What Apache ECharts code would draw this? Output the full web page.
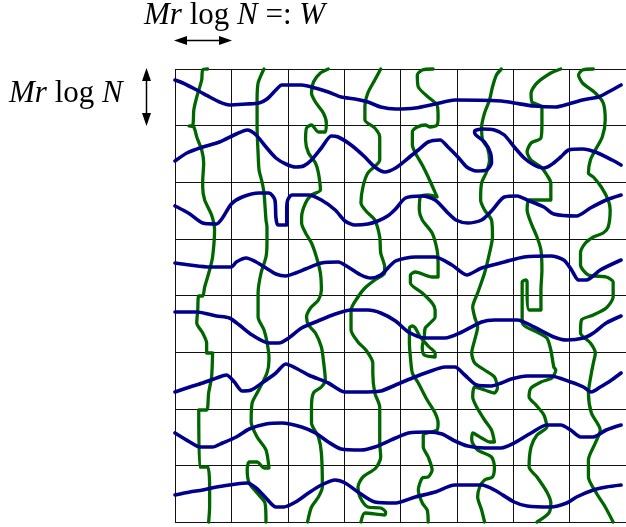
<!DOCTYPE html>
<html>
<head>
<meta charset="utf-8">
<script src="https://cdn.jsdelivr.net/npm/echarts@6/dist/echarts.min.js"></script>
<style>html,body{margin:0;padding:0;background:#fff}#c{width:626px;height:527px}</style>
</head>
<body>
<div id="c"></div>
<script>
// Grid: 8 x 8 cells, each cell = one "Mr log N" block (57 x 56.625 units)
const cellW = 57, cellH = 56.625, nCells = 8;

// Horizontal (blue) curves, [x, y] with y measured downward from the top edge
const blue1 = [[0,11],[8,14],[22,21],[35,28],[45,33],[55,36],[72,35],[85,34],[93,30],[102,21],[108,16],[128,16],[138,18],[155,23],[168,28],[182,30],[195,33],[208,38],[223,40],[243,39],[263,35],[283,31],[330,32],[343,34],[363,37],[385,38],[398,35],[412,31],[428,28],[438,23],[451,16]];
const blue2 = [[0,92],[12,84],[28,78],[45,73],[62,65],[73,61],[82,66],[92,78],[102,89],[112,95],[122,98],[130,97],[138,91],[148,79],[158,67],[165,68],[178,76],[192,88],[202,98],[212,103],[223,99],[236,89],[246,81],[256,73],[268,71],[276,78],[286,88],[295,98],[305,102],[315,101],[320,94],[319,84],[313,73],[303,64],[303,62],[310,60],[323,61],[333,66],[343,78],[353,89],[363,96],[373,99],[380,96],[390,88],[398,81],[412,80],[425,83],[442,91],[451,96]];
const blue3 = [[0,137],[8,141],[15,145],[28,154],[42,155],[48,149],[57,135],[68,128],[85,124],[95,124],[101,131],[102,148],[104,156],[113,156],[113,140],[114,131],[118,126],[135,126],[148,131],[162,141],[172,152],[182,156],[195,155],[205,152],[215,147],[223,140],[233,129],[250,127],[263,131],[276,144],[284,151],[296,154],[310,151],[320,142],[333,128],[346,127],[356,131],[373,138],[383,145],[406,147],[420,139],[436,131],[451,126]];
const blue4 = [[0,194],[15,196],[35,198],[57,198],[62,193],[72,189],[82,193],[92,199],[102,205],[112,207],[122,204],[132,200],[148,194],[165,193],[175,198],[188,206],[198,209],[208,206],[223,192],[243,188],[263,188],[280,196],[295,206],[310,199],[333,193],[353,188],[380,187],[393,191],[401,201],[408,211],[416,211],[430,201],[451,191]];
const blue5 = [[0,243],[22,243],[42,247],[55,249],[65,256],[78,266],[95,274],[105,274],[115,269],[128,259],[142,253],[162,245],[178,241],[195,241],[208,244],[223,252],[236,263],[253,269],[273,269],[290,263],[310,253],[323,251],[346,251],[363,258],[383,268],[396,271],[413,269],[423,264],[436,254],[451,247]];
const blue6 = [[0,323],[15,318],[28,314],[42,309],[52,306],[60,313],[68,322],[77,321],[88,314],[102,304],[112,295],[122,299],[135,306],[155,314],[172,323],[188,323],[208,322],[223,316],[240,309],[256,303],[273,298],[283,298],[293,306],[305,316],[320,317],[330,314],[340,310],[356,307],[380,307],[400,313],[413,318],[421,323],[430,318],[440,312],[451,304]];
const blue7 = [[0,364],[15,373],[25,378],[38,378],[48,374],[62,368],[75,360],[92,355],[108,354],[128,358],[142,364],[155,373],[168,380],[188,381],[202,378],[223,369],[236,364],[256,363],[270,365],[283,372],[296,377],[313,379],[330,379],[343,374],[360,364],[376,356],[390,356],[400,361],[410,368],[423,368],[436,361],[451,356]];
const blue8 = [[0,426],[15,423],[28,421],[42,418],[62,415],[73,414],[82,419],[92,429],[102,438],[110,438],[122,433],[135,424],[148,416],[162,411],[172,414],[185,423],[202,433],[223,434],[243,428],[263,423],[283,416],[310,416],[323,421],[343,433],[356,437],[380,438],[396,434],[406,428],[423,421],[436,418],[451,416]];

// Vertical (green) curves
const green1 = [[33,0],[28,1],[27,11],[22,28],[19,41],[18,56],[14,57],[19,58],[22,68],[27,81],[29,94],[28,113],[28,118],[30,131],[37,146],[40,161],[38,188],[35,201],[30,218],[28,227],[24,227],[23,241],[22,254],[28,264],[32,274],[32,284],[38,284],[37,308],[34,324],[32,341],[24,341],[25,398],[33,398],[35,418],[35,438],[34,453]];
const green2 = [[90,0],[88,4],[84,14],[83,31],[83,58],[84,84],[85,101],[88,113],[90,124],[92,151],[93,158],[93,174],[92,188],[87,204],[84,224],[84,248],[90,261],[93,273],[95,288],[95,291],[93,304],[83,324],[78,334],[77,353],[83,368],[92,381],[95,399],[90,399],[83,393],[75,393],[73,401],[75,414],[83,424],[91,434],[92,453]];
const green3 = [[155,0],[147,4],[140,13],[138,24],[142,33],[150,44],[153,54],[152,63],[145,63],[138,56],[133,59],[132,71],[135,84],[142,94],[145,104],[147,121],[138,126],[132,134],[128,148],[128,154],[132,164],[138,174],[143,188],[147,204],[148,221],[145,231],[137,239],[133,248],[135,256],[142,264],[148,278],[150,291],[152,311],[148,318],[140,324],[138,338],[138,354],[145,368],[148,384],[149,418],[145,428],[138,438],[134,453]];
const green4 = [[208,0],[202,11],[195,24],[192,38],[192,51],[202,59],[207,68],[207,91],[195,104],[190,118],[188,134],[194,143],[202,151],[207,168],[208,184],[212,198],[212,204],[202,211],[192,219],[185,228],[178,241],[178,261],[185,273],[193,281],[200,294],[200,304],[202,324],[207,338],[207,374],[208,388],[203,399],[190,408],[185,418],[187,428],[195,438],[208,439],[213,443],[212,446],[192,444],[188,453]];
const green5 = [[261,0],[250,1],[245,6],[246,18],[256,28],[265,36],[266,48],[265,56],[258,58],[253,56],[245,58],[240,63],[240,76],[243,84],[250,96],[256,108],[261,119],[265,128],[256,126],[248,128],[247,141],[250,151],[260,164],[265,181],[266,194],[266,208],[260,208],[243,203],[238,206],[238,214],[250,224],[260,234],[263,241],[263,248],[258,254],[253,259],[252,268],[250,278],[252,286],[263,288],[263,284],[257,278],[248,268],[243,259],[240,257],[237,259],[237,274],[238,288],[240,304],[246,314],[255,331],[263,344],[266,354],[265,361],[251,366],[251,378],[256,388],[260,401],[256,408],[250,409],[246,421],[250,434],[255,441],[256,453]];
const green6 = [[330,0],[325,6],[321,18],[318,31],[313,44],[310,58],[311,71],[316,79],[318,91],[315,103],[310,114],[309,131],[313,141],[320,151],[321,168],[318,184],[313,204],[306,224],[301,238],[303,248],[306,258],[303,271],[300,284],[303,294],[313,301],[323,308],[326,319],[323,324],[313,321],[303,318],[301,328],[305,338],[313,351],[320,361],[323,373],[318,373],[310,369],[301,364],[300,371],[306,381],[320,388],[323,398],[321,408],[313,411],[308,418],[306,428],[310,441],[313,453]];
const green7 = [[390,0],[380,4],[366,14],[360,24],[361,33],[371,38],[371,54],[370,69],[360,74],[356,83],[360,91],[370,98],[376,106],[380,114],[380,131],[370,131],[358,131],[356,141],[360,154],[366,168],[370,181],[371,201],[370,221],[370,241],[358,241],[356,224],[356,213],[355,211],[351,213],[351,234],[351,253],[355,258],[366,263],[376,269],[380,281],[383,298],[385,301],[381,309],[370,313],[360,319],[358,328],[365,336],[373,346],[376,358],[366,366],[360,378],[358,398],[366,408],[376,423],[380,434],[378,444],[366,453]];
const green8 = [[423,0],[412,1],[408,6],[412,14],[425,24],[433,34],[435,51],[432,68],[425,81],[420,91],[418,104],[423,108],[431,118],[438,131],[440,141],[438,158],[433,164],[423,168],[415,174],[410,184],[410,196],[418,206],[436,208],[443,213],[443,228],[436,239],[423,246],[411,251],[410,264],[420,274],[425,284],[423,294],[421,304],[418,324],[421,344],[430,361],[425,374],[418,391],[418,408],[426,424],[435,438],[443,453]];

const blues = [blue1, blue2, blue3, blue4, blue5, blue6, blue7, blue8];
const greens = [green1, green2, green3, green4, green5, green6, green7, green8];

const topLabel = '{i|Mr}{n| log }{i|N}{n| =: }{i|W}';
const sideLabel = '{i|Mr}{n| log }{i|N}';

const chart = echarts.init(document.getElementById('c'), null, {renderer: 'canvas'});

const mkSeries = (data, color, w, z) => ({
  type: 'line', data: data, showSymbol: false, symbol: 'none', smooth: 0.25,
  clip: false, animation: false, z: z,
  lineStyle: {color: color, width: w, cap: 'round', join: 'round'}
});

const series = [];
greens.forEach(g => series.push(mkSeries(g, '#006600', 3.3, 2)));
blues.forEach(b => series.push(mkSeries(b, '#00008c', 3.6, 3)));

const rich = {
  i: {fontFamily: 'Liberation Serif', fontStyle: 'italic', fontSize: 31, color: '#1a1a1a'},
  n: {fontFamily: 'Liberation Serif', fontSize: 31, color: '#1a1a1a'}
};

chart.setOption({
  animation: false,
  backgroundColor: '#fff',
  grid: {left: 175, top: 69, width: cellW * nCells, height: cellH * nCells, containLabel: false},
  xAxis: {
    type: 'value', min: 0, max: cellW * nCells, interval: cellW,
    axisLine: {show: false}, axisTick: {show: false}, axisLabel: {show: false},
    splitLine: {show: true, lineStyle: {color: '#111', width: 1}}
  },
  yAxis: {
    type: 'value', min: 0, max: cellH * nCells, interval: cellH, inverse: true,
    axisLine: {show: false}, axisTick: {show: false}, axisLabel: {show: false},
    splitLine: {show: true, lineStyle: {color: '#111', width: 1}}
  },
  series: series,
  graphic: [
    {type: 'text', left: 144, top: 0, style: {text: topLabel, rich: rich}},
    {type: 'text', left: 9, top: 78, style: {text: sideLabel, rich: rich}},
    // horizontal double arrow
    {type: 'line', shape: {x1: 184, y1: 40.5, x2: 222, y2: 40.5}, style: {stroke: '#000', lineWidth: 1.5}},
    {type: 'polygon', shape: {points: [[174, 40.5], [187, 36], [187, 45]]}, style: {fill: '#000'}},
    {type: 'polygon', shape: {points: [[232, 40.5], [219, 36], [219, 45]]}, style: {fill: '#000'}},
    // vertical double arrow
    {type: 'line', shape: {x1: 146.5, y1: 78, x2: 146.5, y2: 116}, style: {stroke: '#000', lineWidth: 1.5}},
    {type: 'polygon', shape: {points: [[146.5, 68], [142, 81], [151, 81]]}, style: {fill: '#000'}},
    {type: 'polygon', shape: {points: [[146.5, 126], [142, 113], [151, 113]]}, style: {fill: '#000'}}
  ]
});
</script>
</body>
</html>
